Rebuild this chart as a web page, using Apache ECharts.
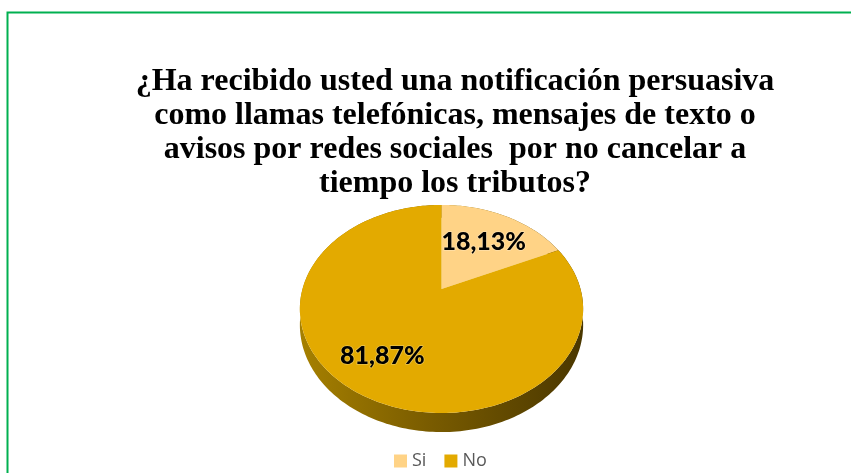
<!DOCTYPE html>
<html><head><meta charset="utf-8">
<script src="https://cdn.jsdelivr.net/npm/echarts@6/dist/echarts.min.js"></script>
<style>html,body{margin:0;padding:0;background:#fff}#c{width:851px;height:473px}</style>
</head><body><div id="c"></div>
<script>
var categories = ['Si', 'No'];
var values = [18.13, 81.87];
var labels = ['18,13%', '81,87%'];
var colors = ['#FFD386', '#E3AA00'];
var titleText = '¿Ha recibido usted una notificación persuasiva\ncomo llamas telefónicas, mensajes de texto o\navisos por redes sociales  por no cancelar a\ntiempo los tributos?';

var total = values.reduce(function(a,b){return a+b;},0);
// projection parameters (layout)
var P = {cx: 441.5, cy: 289, R: 139, B: 100.2, k: 0.192, T: 15.4};
function proj(theta, f, h) {
  var u = Math.sin(theta) * f, w = Math.cos(theta) * f;
  var s = 1 / (1 + P.k * w);
  return [P.cx + P.R * u * s, P.cy - P.B * w * s + (h || 0) * s];
}
function angles(i) {
  var a0 = 0;
  for (var j = 0; j < i; j++) a0 += values[j];
  return [a0 / total * 2 * Math.PI, (a0 + values[i]) / total * 2 * Math.PI];
}
function arcPts(t0, t1, h) {
  var n = Math.max(4, Math.ceil((t1 - t0) / 0.02)), pts = [];
  for (var i = 0; i <= n; i++) pts.push(proj(t0 + (t1 - t0) * i / n, 1, h));
  return pts;
}
function sideItem(params, api) {
  var i = params.dataIndex, a = angles(i);
  var top = arcPts(a[0], a[1], 0), bot = arcPts(a[0], a[1], P.T).reverse();
  return {type: 'polygon', shape: {points: top.concat(bot)},
    style: {fill: {type: 'linear', x: 0, y: 0, x2: 1, y2: 0, colorStops: [
      {offset: 0, color: '#A68000'}, {offset: 0.45, color: '#7A5C00'}, {offset: 1, color: '#4A3700'}]}}};
}
var labelFrac = [0.62, 0.7];
function topItemFor(idx) {
  return function(params, api) {
    var a = angles(idx);
    var pts = [proj(0, 0, 0)].concat(arcPts(a[0], a[1], 0));
    var mid = (a[0] + a[1]) / 2, lp = proj(mid, labelFrac[idx], 0);
    return {type: 'group', children: [
      {type: 'polygon', shape: {points: pts}, style: {fill: colors[idx]}},
      {type: 'text', x: lp[0], y: lp[1], z2: 10, style: {text: labels[idx], align: 'center', verticalAlign: 'middle',
        fontFamily: 'Lato', fontWeight: 900, fontSize: 25, fill: '#000',
        stroke: 'rgba(255,255,255,0.3)', lineWidth: 1.5}}
    ]};
  };
}
var series = [{type: 'custom', name: 'side', z: 1, coordinateSystem: 'none', renderItem: sideItem,
  data: values.map(function(v){return [v];}), silent: true}];
categories.forEach(function(c, i) {
  series.push({type: 'custom', name: c, z: 2, coordinateSystem: 'none', renderItem: topItemFor(i),
    data: [[values[i]]], itemStyle: {color: colors[i]}, silent: true});
});
var chart = echarts.init(document.getElementById('c'));
chart.setOption({
  animation: false,
  backgroundColor: '#fff',
  title: {text: titleText, left: 455, top: 65, padding: 0, textAlign: 'center',
    textStyle: {fontFamily: 'Liberation Serif', fontWeight: 'bold', fontSize: 32, lineHeight: 34, color: '#000'}},
  legend: {data: categories, bottom: 3, left: 394, padding: 0, icon: 'rect', itemWidth: 13, itemHeight: 13, itemGap: 18,
    textStyle: {fontFamily: 'Open Sans', fontSize: 18, color: '#595959'}},
  graphic: [{type: 'polyline', shape: {points: [[7.5, 473], [7.5, 12.5], [851, 12.5]]},
    style: {stroke: '#00B050', lineWidth: 2, fill: null}, silent: true}],
  series: series
});
</script></body></html>
